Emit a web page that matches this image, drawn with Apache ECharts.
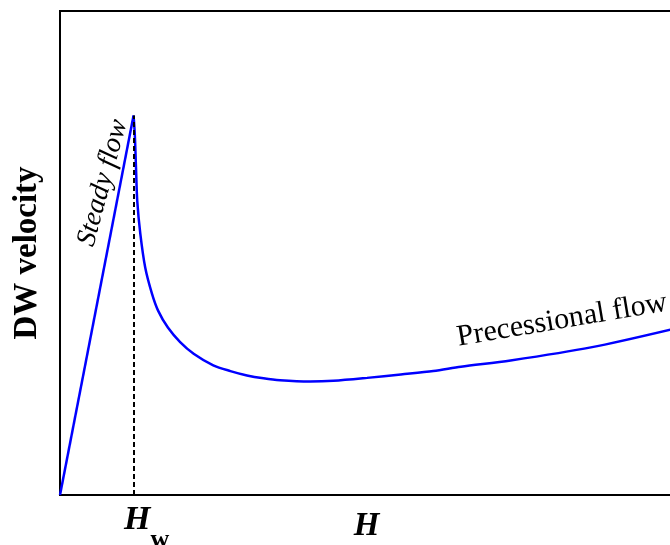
<!DOCTYPE html>
<html>
<head>
<meta charset="utf-8">
<script src="https://cdn.jsdelivr.net/npm/echarts@6/dist/echarts.min.js"></script>
<style>html,body{margin:0;padding:0;background:#fff}#c{width:670px;height:545px}</style>
</head>
<body>
<div id="c"></div>
<script>
// Field H (arbitrary units) and DW velocity (arbitrary units)
var steadyH = [0, 1.2];
var steadyV = [0, 7.84];
var precessH = [1.2, 1.22, 1.24, 1.26, 1.31, 1.39, 1.50, 1.60, 1.76, 1.96, 2.18, 2.50, 2.78, 3.05, 3.32, 3.59, 4.08, 4.46, 5.01, 5.56, 6.09, 6.54, 7.35, 8.66, 10.0];
var precessV = [7.84, 7.46, 6.76, 6.08, 5.40, 4.70, 4.16, 3.81, 3.46, 3.16, 2.92, 2.68, 2.56, 2.47, 2.41, 2.37, 2.345, 2.36, 2.42, 2.49, 2.56, 2.65, 2.78, 3.05, 3.43];
var walkerField = 1.2;
var walkerPeak = 7.84;
var xName = 'H';
var yName = 'DW velocity';
var labelSteady = 'Steady flow';
var labelPrecess = 'Precessional flow';
var steadyPos = [0.7, 6.45];
var precessPos = [8.19, 3.61];

function zip(a, b) { return a.map(function (v, i) { return [v, b[i]]; }); }
var serif = 'Liberation Serif, Times New Roman, serif';

var chart = echarts.init(document.getElementById('c'), null, {renderer: 'canvas'});
chart.setOption({
  animation: false,
  grid: {left: 60, right: -3, top: 11, bottom: 50, show: true, borderColor: '#000', borderWidth: 2, backgroundColor: 'transparent', containLabel: false, outerBoundsMode: 'none'},
  xAxis: {
    type: 'value', min: 0, max: 10,
    name: xName, nameLocation: 'middle', nameGap: 15, nameMoveOverlap: false,
    nameTextStyle: {fontFamily: serif, fontSize: 33, fontWeight: 'bold', fontStyle: 'italic', color: '#000', verticalAlign: 'top'},
    axisLine: {show: true, lineStyle: {color: '#000', width: 2}},
    axisTick: {show: false},
    splitLine: {show: false},
    axisLabel: {
      customValues: [walkerField],
      margin: 8,
      formatter: function () { return '{h|H}{w|w}'; },
      rich: {
        h: {fontFamily: serif, fontSize: 34, fontWeight: 'bold', fontStyle: 'italic', color: '#000', padding: [0, 0, 0, 26], lineHeight: 34},
        w: {fontFamily: serif, fontSize: 26, fontWeight: 'bold', color: '#000', padding: [40, 0, 0, 0], lineHeight: 34}
      }
    }
  },
  yAxis: {
    type: 'value', min: 0, max: 10,
    name: yName, nameLocation: 'middle', nameGap: 16,
    nameTextStyle: {fontFamily: serif, fontSize: 33, fontWeight: 'bold', color: '#000'},
    axisLine: {show: true, lineStyle: {color: '#000', width: 2}},
    axisTick: {show: false},
    axisLabel: {show: false},
    splitLine: {show: false}
  },
  series: [{
    type: 'line',
    data: zip(steadyH, steadyV),
    showSymbol: false,
    lineStyle: {color: '#0000ff', width: 2.5},
    z: 3,
    markLine: {
      silent: true,
      symbol: ['none', 'none'],
      label: {show: false},
      lineStyle: {color: '#000', type: [5, 3], width: 2},
      data: [[{coord: [walkerField, 0]}, {coord: [walkerField, walkerPeak]}]]
    },
    markPoint: {
      silent: true,
      symbol: 'circle', symbolSize: 0,
      data: [
        {coord: steadyPos, label: {show: true, position: 'inside', formatter: labelSteady, rotate: 75, fontFamily: serif, fontStyle: 'italic', fontSize: 28, color: '#000'}},
        {coord: precessPos, label: {show: true, position: 'inside', formatter: labelPrecess, rotate: 9.6, fontFamily: serif, fontSize: 30, color: '#000'}}
      ]
    }
  }, {
    type: 'line',
    data: zip(precessH, precessV),
    showSymbol: false,
    smooth: 0.3,
    lineStyle: {color: '#0000ff', width: 2.5},
    z: 3
  }]
});
</script>
</body>
</html>
